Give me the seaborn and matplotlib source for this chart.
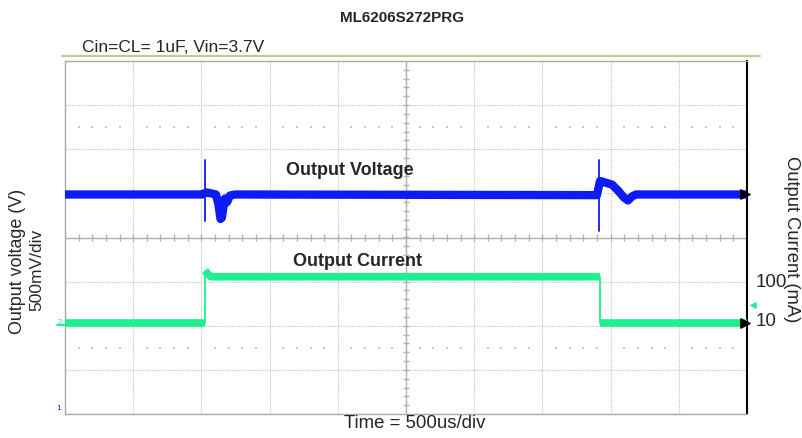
import numpy as np
import pandas as pd
import matplotlib
matplotlib.use("Agg")
import matplotlib.pyplot as plt
import seaborn as sns

# ---------------- data (time in us, levels in screen divisions) ----------------
volt_t = [0, 1005, 1020, 1041, 1085, 1107, 1125, 1140, 1150, 1162, 1173, 1188, 1210, 1246,
          3900, 3922, 3936, 3959, 4010, 4054, 4098, 4127, 4157, 4186, 5000]
volt_div = [0.975, 0.975, 1.0, 1.02, 0.99, 0.975, 0.75, 0.42, 0.45, 0.70, 0.884, 0.80, 0.952, 0.975,
            0.96, 1.28, 1.27, 1.247, 1.20, 1.066, 0.907, 0.839, 0.93, 0.975, 0.975]
spike_t = [1026, 3915]
spike_top = [1.746, 1.746]
spike_bottom = [0.385, 0.136]

curr_seg = ["low1", "low1", "high", "high", "high", "high", "low2", "low2"]
curr_t = [0, 1026, 1026, 1045, 1070, 3922, 3922, 5000]
curr_div = [-1.93, -1.93, -0.75, -0.82, -0.89, -0.89, -1.93, -1.93]
step_t = [1026, 3922]
step_low = [-1.93, -1.93]
step_high = [-0.75, -0.89]

current_scale_labels = ["100", "10"]
current_scale_pos = [-0.995, -1.88]

BLUE = "#0d1cf5"
GREEN = "#1ef08e"
GRID = "#c4c4c4"

sns.set_style("white")
plt.rcParams["font.family"] = ["Liberation Sans", "DejaVu Sans"]

fig = plt.figure(figsize=(8.03, 4.39), dpi=100)
W, H = 803, 439
ax = fig.add_axes([65 / W, 24 / H, 682 / W, 353 / H])
ax.set_xlim(0, 5000)
ax.set_ylim(-4, 4)

# grid
for k in range(1, 10):
    if k != 5:
        ax.axvline(k * 500, color=GRID, lw=0.8, ls=(0, (1, 1)), zorder=0)
for k in range(-3, 4):
    if k != 0:
        ax.axhline(k, color=GRID, lw=0.8, ls=(0, (1, 1)), zorder=0)
ax.axvline(2500, color="#b0b0b0", lw=1.0, zorder=0)
ax.axhline(0, color="#b0b0b0", lw=1.0, zorder=0)
tx = [t for t in np.arange(100, 5000, 100) if t % 500 != 0]
ax.vlines(np.arange(100, 5000, 100), -0.07, 0.07, color="#b0b0b0", lw=1.0, zorder=0)
ax.hlines(np.arange(-3.8, 4.0, 0.2), 2478, 2522, color="#b0b0b0", lw=1.0, zorder=0)
for yy in (2.5, -2.5):
    ax.scatter(tx, [yy] * len(tx), s=1.0, color="#c8c8c8", marker="s", linewidths=0, zorder=0)

# voltage trace
dv = pd.DataFrame({"t": volt_t, "v": volt_div})
sns.lineplot(data=dv, x="t", y="v", ax=ax, color=BLUE, lw=6.0, estimator=None,
             sort=False, solid_capstyle="butt", zorder=3)
for t, a, b in zip(spike_t, spike_top, spike_bottom):
    sns.lineplot(x=[t, t], y=[a, b], ax=ax, color=BLUE, lw=1.3, estimator=None, sort=False, zorder=3)

# current trace
dc = pd.DataFrame({"t": curr_t, "i": curr_div, "seg": curr_seg})
sns.lineplot(data=dc, x="t", y="i", units="seg", ax=ax, color=GREEN, lw=5.5, estimator=None,
             sort=False, solid_capstyle="butt", zorder=3)
for t, a, b in zip(step_t, step_low, step_high):
    sns.lineplot(x=[t, t], y=[a, b], ax=ax, color=GREEN, lw=1.3, estimator=None, sort=False, zorder=3)

# end markers
ax.scatter([4985, 4985], [volt_div[-1], curr_div[-1]], marker=">", s=45, color="black",
           zorder=4, clip_on=False)
ax.scatter([5044], [-1.52], marker="<", s=14, color=GREEN, clip_on=False, zorder=4)
ax.plot([-60, 0], [-1.98, -1.98], color=GREEN, lw=1.5, clip_on=False)

ax.set_xlabel("")
ax.set_ylabel("")
ax.set_xticks([])
ax.set_yticks([])
for s in ["left", "top", "bottom"]:
    ax.spines[s].set_color("#a8a8a8")
    ax.spines[s].set_linewidth(1.0)
ax.spines["right"].set_color("black")
ax.spines["right"].set_linewidth(1.5)

# trace labels
ax.text(2089, 1.53, "Output Voltage", fontsize=13, fontweight="bold", ha="center", va="center")
ax.text(2148, -0.52, "Output Current", fontsize=13, fontweight="bold", ha="center", va="center")
for lab, pos in zip(current_scale_labels, current_scale_pos):
    ax.text(5060, pos, lab, fontsize=13.5, ha="left", va="center", clip_on=False)

# figure text
fig.text(402 / W, 1 - 18 / H, "ML6206S272PRG", fontsize=11, fontweight="bold", ha="center", va="center")
fig.text(82 / W, 1 - 47 / H, "Cin=CL= 1uF, Vin=3.7V", fontsize=12.5, ha="left", va="center")
fig.add_artist(plt.Line2D([62 / W, 760 / W], [1 - 57 / H, 1 - 57 / H], color="#c2c994", lw=1.5))
fig.text(18 / W, 1 - 261 / H, "Output voltage (V)", fontsize=12.9, rotation=90,
         ha="center", va="center")
fig.text(37 / W, 1 - 270 / H, "500mV/div", fontsize=12.5, rotation=90,
         ha="center", va="center")
fig.text(792 / W, 1 - 239 / H, "Output Current (mA)", fontsize=13.2, rotation=-90,
         ha="center", va="center")
fig.text(415 / W, 1 - 424 / H, "Time = 500us/div", fontsize=13.4, ha="center", va="center")
fig.text(60 / W, 1 - 322 / H, "2", fontsize=6, color=GREEN, ha="center", va="center")
fig.text(59 / W, 1 - 409 / H, "1", fontsize=6, color=BLUE, ha="center", va="center")

fig.savefig("out.png", dpi=100)
